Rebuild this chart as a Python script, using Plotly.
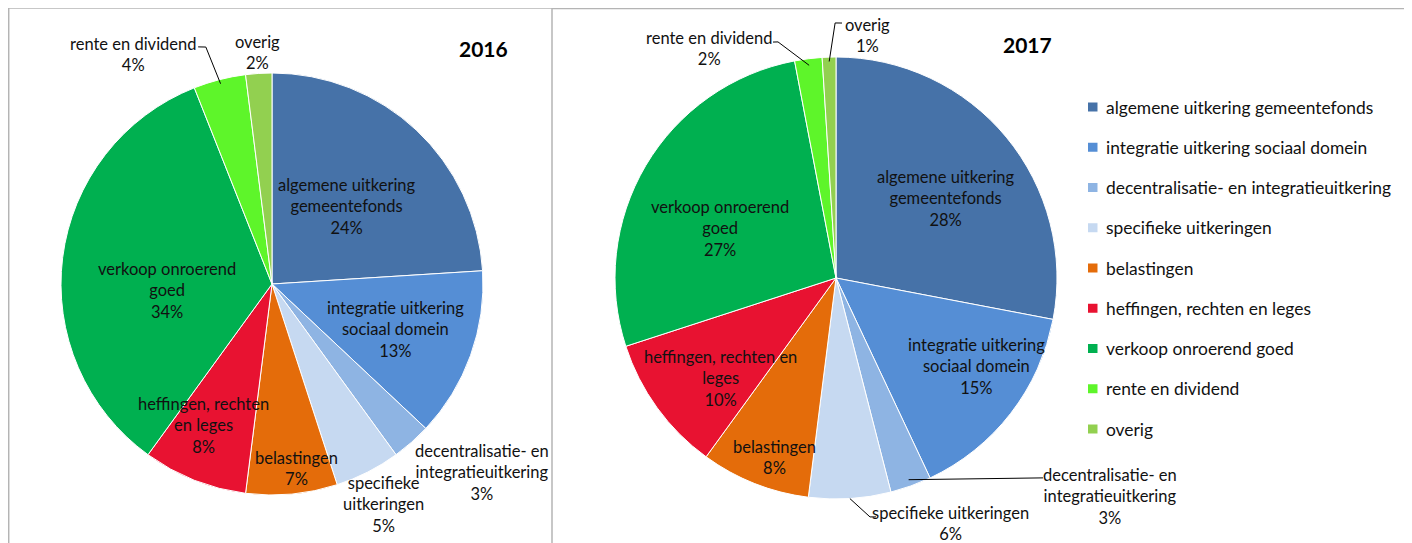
import math
import plotly.graph_objects as go

# ---------------- data ----------------
categories = [
    "algemene uitkering gemeentefonds",
    "integratie uitkering sociaal domein",
    "decentralisatie- en integratieuitkering",
    "specifieke uitkeringen",
    "belastingen",
    "heffingen, rechten en leges",
    "verkoop onroerend goed",
    "rente en dividend",
    "overig",
]
values_2016 = [24, 13, 3, 5, 7, 8, 34, 4, 2]
values_2017 = [28, 15, 3, 6, 8, 10, 27, 2, 1]
years = ["2016", "2017"]

colors = ["#4672A8", "#558ED5", "#8EB4E3", "#C6D9F1", "#E46C0A",
          "#E81231", "#00B050", "#5EF52A", "#92D050"]

# how each chart wraps its slice labels
wrap_2016 = [
    "algemene uitkering<br>gemeentefonds",
    "integratie uitkering<br>sociaal domein",
    "decentralisatie- en<br>integratieuitkering",
    "specifieke<br>uitkeringen",
    "belastingen",
    "heffingen, rechten<br>en leges",
    "verkoop onroerend<br>goed",
    "rente en dividend",
    "overig",
]
wrap_2017 = [
    "algemene uitkering<br>gemeentefonds",
    "integratie uitkering<br>sociaal domein",
    "decentralisatie- en<br>integratieuitkering",
    "specifieke uitkeringen",
    "belastingen",
    "heffingen, rechten en<br>leges",
    "verkoop onroerend<br>goed",
    "rente en dividend",
    "overig",
]

# ---------------- layout constants ----------------
PAGE_W, PAGE_H = 1412, 543
OFF = 8                      # default page margin around the plot div
W, H = PAGE_W - OFF, PAGE_H - OFF
FONT = "Lato"
FS = 16.5       # slice labels
FS_LEG = 17.4   # legend
pies = [
    dict(values=values_2016, wrap=wrap_2016, year=years[0], cx=272, cy=284, r=211,
         title_xy=(483, 48),
         # (angle offset from slice middle in degrees, radius fraction)
         label_pos=[(0.7, 0.51), (0.2, 0.625), (-6.7, 1.34), (0.2, 1.17), (-2.3, 0.88),
                    (4.0, 0.746), (-11, 0.5), (-16.6, 1.27), (0, 1.1)],
         # leader lines: slice index, inner radius fraction, outer polar points
         leaders=[(7, 0.98, [(344.4, 1.166), (342.7, 1.177)])]),
    dict(values=values_2017, wrap=wrap_2017, year=years[1], cx=836, cy=278, r=221,
         title_xy=(1027, 45),
         label_pos=[(3.6, 0.615), (-5.5, 0.75), (-31.7, 1.585), (-21.5, 1.225), (-2.6, 0.86),
                    (-5.0, 0.69), (-7.7, 0.57), (-21.8, 1.185), (9.1, 1.104)],
         leaders=[(7, 0.97, [(346.2, 1.10), (345.05, 1.105)]),
                  (8, 0.98, [(359.8, 1.154), (1.35, 1.154)]),
                  (2, 0.97, [(134.0, 1.302)]),
                  (3, 1.0, [(171.9, 1.092), (170.5, 1.096)])]),
]


def px(x):
    return (x - OFF) / W


def py(y):
    return 1 - (y - OFF) / H


def polar(p, ang, frac):
    a = math.radians(ang)
    return (p["cx"] + frac * p["r"] * math.sin(a), p["cy"] - frac * p["r"] * math.cos(a))


fig = go.Figure()
annotations = []
shapes = []

for p in pies:
    vals = p["values"]
    total = sum(vals)
    fig.add_trace(go.Pie(
        labels=categories, values=vals, sort=False, direction="clockwise",
        rotation=0, marker=dict(colors=colors, line=dict(color="white", width=1)),
        textinfo="none", hoverinfo="label+percent", showlegend=False,
        domain=dict(x=[px(p["cx"] - p["r"]), px(p["cx"] + p["r"])],
                    y=[py(p["cy"] + p["r"]), py(p["cy"] - p["r"])]),
    ))
    cum = 0
    mids = []
    for v in vals:
        mids.append((cum + v / 2) / total * 360)
        cum += v
    for i, v in enumerate(vals):
        dth, fr = p["label_pos"][i]
        x, y = polar(p, mids[i] + dth, fr)
        annotations.append(dict(
            x=px(x), y=py(y), xref="paper", yref="paper", xanchor="center", yanchor="middle",
            text=f"{p['wrap'][i]}<br>{round(v / total * 100)}%", showarrow=False, align="center",
            font=dict(family=FONT, size=FS, color="#111111")))
    for idx, inner, outer in p["leaders"]:
        pts = [polar(p, mids[idx], inner)] + [polar(p, a, f) for a, f in outer]
        path = "M " + " L ".join(f"{px(x)},{py(y)}" for x, y in pts)
        shapes.append(dict(type="path", path=path, xref="paper", yref="paper",
                           line=dict(color="black", width=1)))
    tx, ty = p["title_xy"]
    annotations.append(dict(x=px(tx), y=py(ty), xref="paper", yref="paper", showarrow=False,
                            text=f"<b>{p['year']}</b>", xanchor="center", yanchor="middle",
                            font=dict(family=FONT, size=21, color="black")))

# manual legend
for i, cat in enumerate(categories):
    yy = 107 + i * 40.25
    shapes.append(dict(type="rect", xref="paper", yref="paper",
                       x0=px(1088), x1=px(1097.5), y0=py(yy + 4.5), y1=py(yy - 4.5),
                       fillcolor=colors[i], line=dict(width=0)))
    annotations.append(dict(x=px(1104), y=py(yy), xref="paper", yref="paper", showarrow=False,
                            text=cat, xanchor="left", yanchor="middle",
                            font=dict(family=FONT, size=FS_LEG, color="#111111")))

# chart frames
frame = dict(color="#B4B4B4", width=1.5)
shapes += [
    dict(type="line", xref="paper", yref="paper", x0=px(8.7), x1=px(8.7), y0=-0.05, y1=py(8), line=frame),
    dict(type="line", xref="paper", yref="paper", x0=px(8), x1=px(552), y0=py(8), y1=py(8), line=frame),
    dict(type="line", xref="paper", yref="paper", x0=px(552), x1=px(552), y0=-0.05, y1=py(8), line=frame),
    dict(type="line", xref="paper", yref="paper", x0=px(552), x1=1.01, y0=py(8.5), y1=py(8.5), line=frame),
]

fig.update_layout(
    width=W, height=H, margin=dict(l=0, r=0, t=0, b=0),
    paper_bgcolor="white", plot_bgcolor="white",
    annotations=annotations, shapes=shapes,
)
fig.write_html("out.html")
